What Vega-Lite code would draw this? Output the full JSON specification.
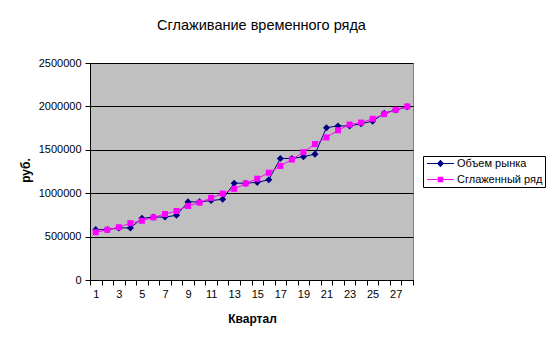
{
  "$schema": "https://vega.github.io/schema/vega-lite/v6.json",
  "width": 323,
  "height": 217,
  "autosize": "none",
  "padding": {"left": 90, "top": 63, "right": 142, "bottom": 63},
  "background": "white",
  "config": {
    "view": {"stroke": "#808080", "fill": "#C0C0C0", "strokeWidth": 1},
    "font": "Liberation Sans",
    "axis": {"labelFont": "Liberation Sans", "labelFontSize": 11, "labelColor": "black", "titleFont": "Liberation Sans", "titleColor": "black"}
  },
  "title": {
    "text": "Сглаживание временного ряда",
    "font": "Liberation Sans",
    "fontSize": 14.5,
    "fontWeight": "normal",
    "color": "black",
    "anchor": "middle",
    "frame": "group",
    "dx": 10,
    "dy": -20
  },
  "data": {
    "values": [
      {"q": 1, "series": "Объем рынка", "value": 580000},
      {"q": 2, "series": "Объем рынка", "value": 580000},
      {"q": 3, "series": "Объем рынка", "value": 600000},
      {"q": 4, "series": "Объем рынка", "value": 600000},
      {"q": 5, "series": "Объем рынка", "value": 710000},
      {"q": 6, "series": "Объем рынка", "value": 725000},
      {"q": 7, "series": "Объем рынка", "value": 725000},
      {"q": 8, "series": "Объем рынка", "value": 745000},
      {"q": 9, "series": "Объем рынка", "value": 900000},
      {"q": 10, "series": "Объем рынка", "value": 900000},
      {"q": 11, "series": "Объем рынка", "value": 915000},
      {"q": 12, "series": "Объем рынка", "value": 930000},
      {"q": 13, "series": "Объем рынка", "value": 1115000},
      {"q": 14, "series": "Объем рынка", "value": 1115000},
      {"q": 15, "series": "Объем рынка", "value": 1125000},
      {"q": 16, "series": "Объем рынка", "value": 1155000},
      {"q": 17, "series": "Объем рынка", "value": 1400000},
      {"q": 18, "series": "Объем рынка", "value": 1400000},
      {"q": 19, "series": "Объем рынка", "value": 1420000},
      {"q": 20, "series": "Объем рынка", "value": 1450000},
      {"q": 21, "series": "Объем рынка", "value": 1755000},
      {"q": 22, "series": "Объем рынка", "value": 1775000},
      {"q": 23, "series": "Объем рынка", "value": 1775000},
      {"q": 24, "series": "Объем рынка", "value": 1800000},
      {"q": 25, "series": "Объем рынка", "value": 1830000},
      {"q": 26, "series": "Объем рынка", "value": 1920000},
      {"q": 27, "series": "Объем рынка", "value": 1960000},
      {"q": 28, "series": "Объем рынка", "value": 1995000},
      {"q": 1, "series": "Сглаженный ряд", "value": 550000},
      {"q": 2, "series": "Сглаженный ряд", "value": 578000},
      {"q": 3, "series": "Сглаженный ряд", "value": 608000},
      {"q": 4, "series": "Сглаженный ряд", "value": 655000},
      {"q": 5, "series": "Сглаженный ряд", "value": 682000},
      {"q": 6, "series": "Сглаженный ряд", "value": 721000},
      {"q": 7, "series": "Сглаженный ряд", "value": 760000},
      {"q": 8, "series": "Сглаженный ряд", "value": 795000},
      {"q": 9, "series": "Сглаженный ряд", "value": 853000},
      {"q": 10, "series": "Сглаженный ряд", "value": 891000},
      {"q": 11, "series": "Сглаженный ряд", "value": 946000},
      {"q": 12, "series": "Сглаженный ряд", "value": 996000},
      {"q": 13, "series": "Сглаженный ряд", "value": 1050000},
      {"q": 14, "series": "Сглаженный ряд", "value": 1112000},
      {"q": 15, "series": "Сглаженный ряд", "value": 1167000},
      {"q": 16, "series": "Сглаженный ряд", "value": 1236000},
      {"q": 17, "series": "Сглаженный ряд", "value": 1314000},
      {"q": 18, "series": "Сглаженный ряд", "value": 1388000},
      {"q": 19, "series": "Сглаженный ряд", "value": 1473000},
      {"q": 20, "series": "Сглаженный ряд", "value": 1566000},
      {"q": 21, "series": "Сглаженный ряд", "value": 1643000},
      {"q": 22, "series": "Сглаженный ряд", "value": 1725000},
      {"q": 23, "series": "Сглаженный ряд", "value": 1791000},
      {"q": 24, "series": "Сглаженный ряд", "value": 1814000},
      {"q": 25, "series": "Сглаженный ряд", "value": 1857000},
      {"q": 26, "series": "Сглаженный ряд", "value": 1911000},
      {"q": 27, "series": "Сглаженный ряд", "value": 1961000},
      {"q": 28, "series": "Сглаженный ряд", "value": 2000000}
    ]
  },
  "encoding": {
    "y": {
      "field": "value",
      "type": "quantitative",
      "scale": {"domain": [0, 2500000], "nice": false, "zero": true},
      "axis": {
        "values": [0, 500000, 1000000, 1500000, 2000000, 2500000],
        "format": "d",
        "grid": true,
        "gridColor": "black",
        "gridWidth": 1,
        "gridOpacity": 1,
        "domain": true,
        "domainColor": "black",
        "ticks": true,
        "tickColor": "black",
        "tickSize": 5,
        "labelPadding": 4,
        "title": "руб.",
        "titleFontSize": 12,
        "titleFontWeight": "bold",
        "titleAngle": 270,
        "titleAlign": "center",
        "titleBaseline": "bottom",
        "titleX": -58,
        "titleY": 107
      }
    },
    "color": {
      "field": "series",
      "type": "nominal",
      "scale": {"domain": ["Объем рынка", "Сглаженный ряд"], "range": ["#000080", "#FF00FF"]},
      "legend": {
        "title": null,
        "orient": "none",
        "legendX": 333,
        "legendY": 93,
        "padding": 2,
        "rowPadding": 4,
        "strokeColor": "black",
        "fillColor": "white",
        "cornerRadius": 0,
        "labelFont": "Liberation Sans",
        "labelFontSize": 11,
        "labelColor": "black",
        "labelOffset": 21,
        "symbolSize": 49,
        "symbolStrokeWidth": 0,
        "encode": {
          "symbols": {
            "update": {
              "shape": {"signal": "datum.value == 'Объем рынка' ? 'M-1,-0.15H6.7V0.15H-1Z M1.85,0L2.85,-1.1L3.85,0L2.85,1.1Z' : 'M-1,-0.15H6.7V0.15H-1Z M2.05,-0.8H3.65V0.8H2.05Z'"},
              "fill": {"signal": "datum.value == 'Объем рынка' ? '#000080' : '#FF00FF'"},
              "fillOpacity": {"value": 1},
              "strokeWidth": {"value": 0}
            }
          }
        }
      }
    }
  },
  "layer": [
    {
      "transform": [{"filter": "datum.series == 'Объем рынка'"}],
      "mark": {"type": "line", "strokeWidth": 1},
      "encoding": {
        "x": {
          "field": "q",
          "type": "quantitative",
          "scale": {"domain": [0.5, 28.5], "nice": false, "zero": false},
          "axis": {
            "orient": "bottom",
            "values": [0.5, 1.5, 2.5, 3.5, 4.5, 5.5, 6.5, 7.5, 8.5, 9.5, 10.5, 11.5, 12.5, 13.5, 14.5, 15.5, 16.5, 17.5, 18.5, 19.5, 20.5, 21.5, 22.5, 23.5, 24.5, 25.5, 26.5, 27.5, 28.5],
            "labels": false,
            "grid": false,
            "ticks": true,
            "tickSize": 5,
            "tickColor": "black",
            "domain": true,
            "domainColor": "black",
            "title": "Квартал",
            "titleFontSize": 12,
            "titleFontWeight": "bold",
            "titleX": 162,
            "titleY": 42,
            "titleBaseline": "alphabetic",
            "titleAlign": "center"
          }
        }
      }
    },
    {
      "transform": [{"filter": "datum.series == 'Объем рынка'"}],
      "mark": {"type": "point", "filled": true, "opacity": 1, "shape": "diamond", "size": 50},
      "encoding": {
        "x": {
          "field": "q",
          "type": "quantitative",
          "axis": {
            "orient": "bottom",
            "values": [1, 3, 5, 7, 9, 11, 13, 15, 17, 19, 21, 23, 25, 27],
            "labels": true,
            "grid": false,
            "ticks": false,
            "tickSize": 0,
            "domain": false,
            "labelPadding": 8,
            "title": null
          }
        }
      }
    },
    {
      "transform": [{"filter": "datum.series == 'Сглаженный ряд'"}],
      "mark": {"type": "line", "strokeWidth": 1},
      "encoding": {
        "x": {"field": "q", "type": "quantitative", "axis": null}
      }
    },
    {
      "transform": [{"filter": "datum.series == 'Сглаженный ряд'"}],
      "mark": {"type": "point", "filled": true, "opacity": 1, "shape": "square", "size": 36},
      "encoding": {
        "x": {"field": "q", "type": "quantitative", "axis": null}
      }
    }
  ],
  "resolve": {"axis": {"x": "independent"}}
}
